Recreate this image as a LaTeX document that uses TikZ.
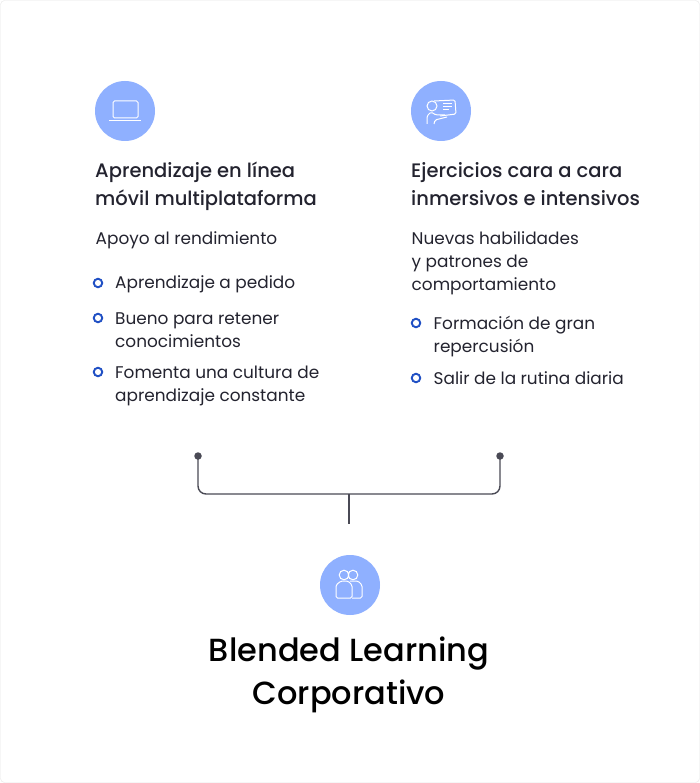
\documentclass[tikz,border=0pt]{standalone}
\usepackage{fontspec}
\setmainfont{Poppins}
\newfontfamily\medfont{Poppins Medium}
\usetikzlibrary{positioning}
\definecolor{iconblue}{HTML}{8FB0FF}
\definecolor{bulletblue}{HTML}{1F4FC4}
\definecolor{inkdark}{HTML}{23232F}
\definecolor{linegray}{HTML}{4A4A55}
\definecolor{framegray}{HTML}{E6E6E6}
\begin{document}
\begin{tikzpicture}[x=1pt,y=-1pt,
    icon/.style={circle, fill=iconblue, minimum size=60pt, inner sep=0pt},
    glyph/.style={draw=white, line width=1pt, rounded corners=1.5pt},
    heading/.style={anchor=north west, inner sep=0pt, align=left, text=inkdark, font=\medfont\fontsize{19.5}{28}\selectfont},
    bodytext/.style={anchor=north west, inner sep=0pt, align=left, text=inkdark, font=\fontsize{16.9}{23}\selectfont},
    bullet/.style={circle, draw=bulletblue, line width=1.9pt, minimum size=8.5pt, inner sep=0pt},
    wire/.style={draw=linegray, line width=1.4pt},
    enddot/.style={circle, fill=linegray, minimum size=7.5pt, inner sep=0pt}
]
    \useasboundingbox (0,0) rectangle (700,783);
    \draw[framegray, rounded corners=4pt, fill=white] (0.5,0.5) rectangle (699.5,782.5);

    % left column
    \node[icon] (laptop) at (125,111) {};
    \draw[glyph] (113,101) rectangle (138,118);
    \draw[glyph] (109,121) -- (141,121);
    \node[heading] (onlinetitle) at (95,162) {Aprendizaje en línea\\móvil multiplataforma};
    \node[bodytext] (support) at (95.5,231) {Apoyo al rendimiento};
    \node[bullet] (b1) at (98,283) {};
    \node[bodytext, anchor=west] (t1) at (115,284) {Aprendizaje a pedido};
    \node[bullet] (b2) at (98,318) {};
    \node[bodytext] (t2) at (115,313) {Bueno para retener\\conocimientos};
    \node[bullet] (b3) at (98,372) {};
    \node[bodytext] (t3) at (115,366) {Fomenta una cultura de\\aprendizaje constante};

    % right column
    \node[icon] (coach) at (441,111) {};
    \draw[glyph] (434,101) -- (455,100) -- (456,114) -- (440,116);
    \draw[glyph] (443,104) -- (452,104) (443,107) -- (452,107) (443,110) -- (449,110);
    \draw[draw=white, line width=1pt] (432,106) circle (5pt);
    \draw[glyph] (427,124) -- (427,116) -- (431,112) -- (436,115) -- (445,115);
    \draw[glyph] (434,124) -- (435,120) -- (447,117);
    \node[heading] (facetitle) at (411,162) {Ejercicios cara a cara\\inmersivos e intensivos};
    \node[bodytext] (skills) at (411.5,231) {Nuevas habilidades\\y patrones de\\comportamiento};
    \node[bullet] (b4) at (416,323) {};
    \node[bodytext] (t4) at (433.5,316) {Formación de gran\\repercusión};
    \node[bullet] (b5) at (416,378) {};
    \node[bodytext, anchor=west] (t5) at (433.5,378) {Salir de la rutina diaria};

    % bracket
    \node[enddot] (dotl) at (198,456) {};
    \node[enddot] (dotr) at (500,456) {};
    \coordinate (stemtop) at (349,494);
    \coordinate (stemend) at (349,524);
    \draw[wire, rounded corners=8pt] (dotl.center) |- (stemtop) -| (dotr.center);
    \draw[wire] (stemtop) -- (stemend);

    % bottom
    \node[icon] (people) at (350,585) {};
    \draw[draw=white, line width=1pt] (344,575) circle (4.8pt) (353,575) circle (4.8pt);
    \draw[glyph] (336,598) -- (336,585) -- (341,581) -- (348,581) -- (352,585) -- (352,598) -- cycle;
    \draw[glyph] (352,598) -- (362,598) -- (362,585) -- (358,581) -- (350,581);
    \node[anchor=north, inner sep=0pt, align=center, text=black, font=\medfont\fontsize{32}{43}\selectfont] (maintitle) at (349,637) {Blended Learning\\Corporativo};
\end{tikzpicture}
\end{document}
